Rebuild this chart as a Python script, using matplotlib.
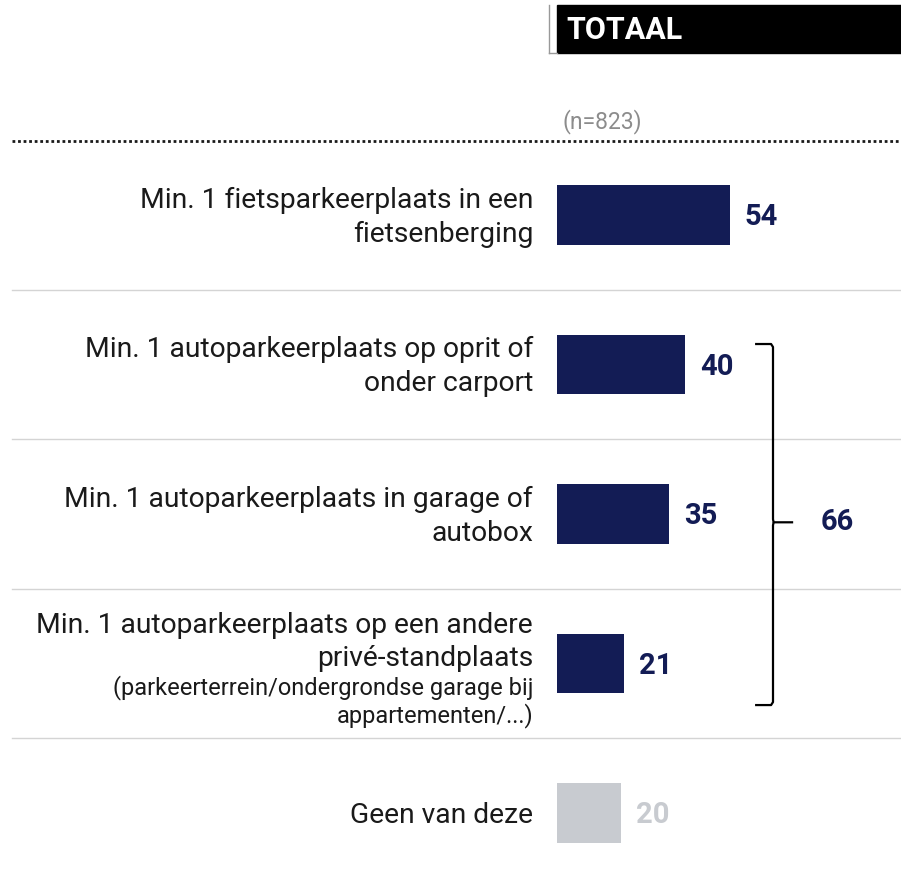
import matplotlib.pyplot as plt
import matplotlib.transforms as mtransforms
from matplotlib.patches import Rectangle

plt.rcParams['font.family'] = ['Roboto', 'DejaVu Sans']

# data
labels = [
    'Min. 1 fietsparkeerplaats in een\nfietsenberging',
    'Min. 1 autoparkeerplaats op oprit of\nonder carport',
    'Min. 1 autoparkeerplaats in garage of\nautobox',
    'Min. 1 autoparkeerplaats op een andere\nprivé-standplaats',
    'Geen van deze',
]
sublabels = ['', '', '', '(parkeerterrein/ondergrondse garage bij\nappartementen/...)', '']
values = [54, 40, 35, 21, 20]
bar_colors = ['#131c55', '#131c55', '#131c55', '#131c55', '#c8cbd0']
group_total = 66
group_rows = [1, 2, 3]
title = 'TOTAAL'
base = '(n=823)'

W, H = 901, 884
fig = plt.figure(figsize=(W / 100, H / 100), dpi=100)

# axes for bars: from x=557px to right edge, y=141px to bottom
ax = fig.add_axes([557 / W, 0, 1 - 557 / W, 1 - 141 / H])
ypos = list(range(len(values)))
ax.barh(ypos, values, height=0.4, color=bar_colors)
ax.set_xlim(0, (W - 557) / 3.2)
ax.set_ylim(4 + (884 - 813) / 149.5, -(215 - 141) / 149.5)
ax.axis('off')

for i, (lab, sub, v, c) in enumerate(zip(labels, sublabels, values, bar_colors)):
    ax.text(v + 4.7, i + 0.015, str(v), ha='left', va='center', fontsize=21,
            fontweight='bold', color=c)
    if sub:
        ax.text(-7.5, i + 0.06, lab, ha='right', va='bottom', fontsize=20.3,
                color='#1a1a1a', linespacing=1.32, clip_on=False)
        ax.text(-7.5, i + 0.075, sub, ha='right', va='top', fontsize=17,
                color='#1a1a1a', linespacing=1.2, clip_on=False)
    else:
        ax.text(-7.5, i + 0.015, lab, ha='right', va='center', fontsize=20.3,
                color='#1a1a1a', linespacing=1.32, clip_on=False)

# separators between rows
trans = mtransforms.blended_transform_factory(fig.transFigure, ax.transData)
for i in range(len(values) - 1):
    ax.plot([12 / W, 1], [i + 0.5, i + 0.5], transform=trans, color='#d4d4d4',
            lw=1, clip_on=False)

# dotted line under header
fig.add_artist(plt.Line2D([12 / W, 1], [1 - 141 / H, 1 - 141 / H],
                          color='#1a1a1a', lw=2, linestyle=(0, (1, 1))))

# header box
fig.add_artist(Rectangle((557 / W, 1 - 53 / H), (W - 557) / W, 48 / H,
                         transform=fig.transFigure, color='black'))
fig.add_artist(plt.Line2D([549 / W, 549 / W], [1 - 5 / H, 1 - 53 / H],
                          color='#999999', lw=1))
fig.add_artist(plt.Line2D([549 / W, 557 / W], [1 - 53 / H, 1 - 53 / H],
                          color='#999999', lw=1))
fig.text(566 / W, 1 - 30 / H, title, color='white', fontsize=22,
         fontweight='bold', ha='left', va='center')
fig.text(563 / W, 1 - 122 / H, base, color='#8c8c8c', fontsize=16.5,
         ha='left', va='center')

# bracket for the car rows
top = group_rows[0] - 0.137
bot = group_rows[-1] + 0.278
mid = (top + bot) / 2 - 0.015
xl, xv, xt = 61.9, 67.5, 73.8
ax.plot([xl, xv - 0.6, xv, xv, xv + 0.2, xt], [top, top, top + 0.02, mid - 0.02, mid, mid],
        color='black', lw=1.6, clip_on=False, solid_capstyle='butt')
ax.plot([xl, xv - 0.6, xv, xv, xv + 0.2], [bot, bot, bot - 0.02, mid + 0.02, mid],
        color='black', lw=1.6, clip_on=False, solid_capstyle='butt')
ax.text(82.5, mid, str(group_total), ha='left', va='center', fontsize=21,
        fontweight='bold', color='#131c55')

fig.savefig('out.png', dpi=100)
